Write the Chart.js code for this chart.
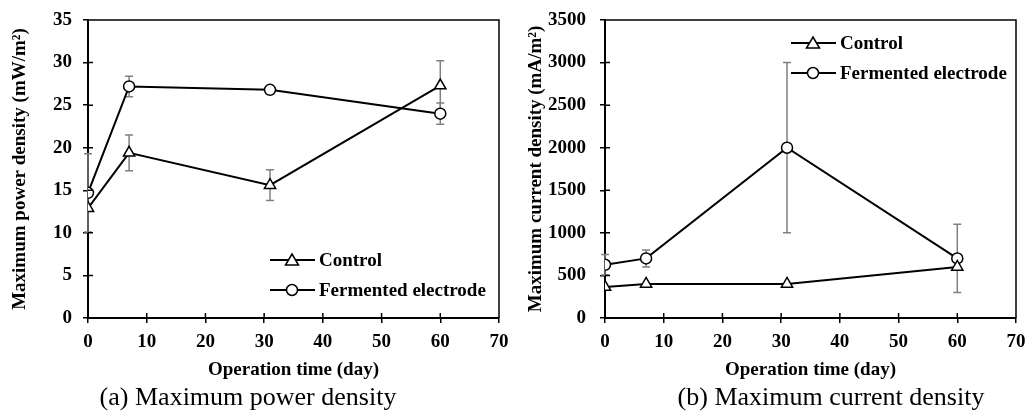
<!DOCTYPE html>
<html>
<head>
<meta charset="utf-8">
<script src="https://cdn.jsdelivr.net/npm/chart.js@4.4.1/dist/chart.umd.min.js"></script>
<style>
  body { margin: 0; background: #fff; width: 1028px; height: 419px; position: relative; overflow: hidden; }
  .box { position: absolute; top: 0; width: 514px; height: 385px; }
  .cap { position: absolute; top: 382px; font-family: 'Liberation Serif', 'Times New Roman', serif; font-size: 26px; color: #000; white-space: nowrap; transform: translateX(-50%); }
</style>
</head>
<body>
<div class="box" style="left:0"><canvas id="powerChart"></canvas></div>
<div class="box" style="left:514px"><canvas id="currentChart"></canvas></div>
<div class="cap" style="left:248px">(a) Maximum power density</div>
<div class="cap" style="left:831px">(b) Maximum current density</div>
<script>
// data
const days = [0, 7, 31, 60];
const seriesNames = ['Control', 'Fermented electrode'];

const controlPower = [12.9, 19.4, 15.6, 27.3];
const controlPowerErr = [0, 2.1, 1.8, 2.9];
const fermPower = [14.7, 27.2, 26.8, 24.0];
const fermPowerErr = [4.6, 1.2, 0, 1.25];

const controlCurrent = [365, 400, 400, 600];
const controlCurrentErr = [0, 0, 0, 0];
const fermCurrent = [625, 700, 2000, 700];
const fermCurrentErr = [120, 100, 1000, 400];

const serif = "'Liberation Serif', 'Times New Roman', serif";

const toPoints = vals => vals.map((v, i) => ({ x: days[i], y: v }));

// gray error bars, drawn under the markers
const errorBars = {
    id: 'errorBars',
    beforeDatasetsDraw(chart) {
        const { ctx, scales: { x, y } } = chart;
        ctx.save();
        ctx.strokeStyle = '#808080';
        ctx.lineWidth = 1.5;
        chart.data.datasets.forEach(ds => {
            (ds.errors || []).forEach((e, i) => {
                if (!e) return;
                const p = ds.data[i];
                const px = x.getPixelForValue(p.x);
                const top = y.getPixelForValue(p.y + e);
                const bot = y.getPixelForValue(Math.max(0, p.y - e));
                ctx.beginPath();
                ctx.moveTo(px, top); ctx.lineTo(px, bot);
                ctx.moveTo(px - 4, top); ctx.lineTo(px + 4, top);
                ctx.moveTo(px - 4, bot); ctx.lineTo(px + 4, bot);
                ctx.stroke();
            });
        });
        ctx.restore();
    }
};

// box frame + tick marks crossing the axes + legend inside the plot
const frame = {
    id: 'frame',
    afterDraw(chart, args, opts) {
        const { ctx, chartArea: a, scales: { x, y } } = chart;
        ctx.save();
        ctx.strokeStyle = '#000';
        ctx.lineWidth = 1.5;
        ctx.beginPath();
        ctx.moveTo(a.left, a.top); ctx.lineTo(a.right, a.top); ctx.lineTo(a.right, a.bottom);
        x.ticks.forEach(t => {
            const px = x.getPixelForValue(t.value);
            ctx.moveTo(px, a.bottom); ctx.lineTo(px, a.bottom - 5);
        });
        y.ticks.forEach(t => {
            const py = y.getPixelForValue(t.value);
            ctx.moveTo(a.left, py); ctx.lineTo(a.left + 5, py);
        });
        ctx.stroke();

        // legend
        let ly = opts.y;
        chart.data.datasets.forEach(ds => {
            const lx = a.left + opts.x;
            ctx.strokeStyle = '#000';
            ctx.lineWidth = 2;
            ctx.beginPath();
            ctx.moveTo(lx, ly); ctx.lineTo(lx + 45, ly);
            ctx.stroke();
            const cx = lx + 22;
            ctx.fillStyle = '#fff';
            ctx.beginPath();
            if (ds.pointStyle === 'circle') {
                ctx.arc(cx, ly, 5.5, 0, Math.PI * 2);
            } else {
                ctx.moveTo(cx, ly - 6); ctx.lineTo(cx + 6.5, ly + 5); ctx.lineTo(cx - 6.5, ly + 5); ctx.closePath();
            }
            ctx.fill();
            ctx.lineWidth = 1.5;
            ctx.stroke();
            ctx.fillStyle = '#000';
            ctx.font = 'bold 19px ' + serif;
            ctx.textBaseline = 'middle';
            ctx.textAlign = 'left';
            ctx.fillText(ds.label, lx + 49, ly + 1);
            ly += opts.gap;
        });
        ctx.restore();
    }
};

function makeChart(id, control, controlErr, ferm, fermErr, yMax, yStep, yTitle, yWidth, yPad, rightPad, legendPos, titleOffset) {
    const line = (label, vals, errs, style, r) => ({
        label: label,
        data: toPoints(vals),
        errors: errs,
        borderColor: '#000',
        borderWidth: 2,
        pointStyle: style,
        pointRadius: r,
        pointHoverRadius: r,
        pointBackgroundColor: '#fff',
        pointBorderColor: '#000',
        pointBorderWidth: 1.5,
        tension: 0
    });
    return new Chart(document.getElementById(id), {
        type: 'line',
        data: {
            datasets: [
                line(seriesNames[0], control, controlErr, 'triangle', 6.5),
                line(seriesNames[1], ferm, fermErr, 'circle', 5.5)
            ]
        },
        options: {
            responsive: true,
            maintainAspectRatio: false,
            animation: false,
            layout: { padding: { top: 20, right: rightPad, left: 0, bottom: 0 } },
            plugins: {
                legend: { display: false },
                tooltip: { enabled: false },
                frame: legendPos
            },
            scales: {
                x: {
                    type: 'linear', min: 0, max: 70,
                    ticks: { stepSize: 10, color: '#000', padding: 8, font: { family: serif, size: 19, weight: 'bold' } },
                    grid: { drawOnChartArea: false, drawTicks: true, tickLength: 5, color: '#000', lineWidth: 1.5 },
                    border: { color: '#000', width: 2 },
                    title: { display: true, text: 'Operation time (day)', color: '#000', padding: { top: 0, bottom: 4 }, font: { family: serif, size: 19, weight: 'bold' } },
                    afterFit: s => { s.height = 67; s.paddingLeft = 0; s.paddingRight = 0; }
                },
                y: {
                    min: 0, max: yMax,
                    ticks: { stepSize: yStep, color: '#000', padding: yPad, callback: v => String(v), font: { family: serif, size: 19, weight: 'bold' } },
                    grid: { drawOnChartArea: false, drawTicks: true, tickLength: 5, color: '#000', lineWidth: 1.5 },
                    border: { color: '#000', width: 2 },
                    title: { display: true, text: yTitle, color: '#000', padding: { top: titleOffset, bottom: 0 }, font: { family: serif, size: 19, weight: 'bold' } },
                    afterFit: s => { s.width = yWidth; s.paddingTop = 0; s.paddingBottom = 0; }
                }
            }
        },
        plugins: [errorBars, frame]
    });
}

makeChart('powerChart', controlPower, controlPowerErr, fermPower, fermPowerErr,
    35, 5, 'Maximum power density (mW/m²)', 88, 11, 15, { x: 182, y: 260, gap: 30 }, 8.6);
makeChart('currentChart', controlCurrent, controlCurrentErr, fermCurrent, fermCurrentErr,
    3500, 500, 'Maximum current density (mA/m²)', 91, 14, 12, { x: 186, y: 43, gap: 30 }, 10.6);
</script>
</body>
</html>
